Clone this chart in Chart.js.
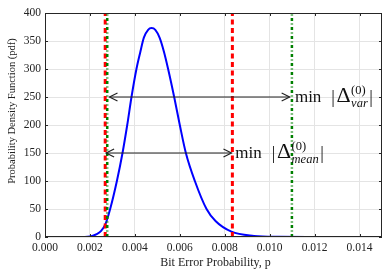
<!DOCTYPE html>
<html lang="en">

<head>
    <meta charset="UTF-8">
    <title>pdf</title>
    <style>
        html, body { margin: 0; padding: 0; background: #fff; }
        #box { width: 390px; height: 276px; }
    </style>
</head>

<body>
    <div id="box">
        <canvas id="myChart"></canvas>
    </div>

    <script src="https://cdn.jsdelivr.net/npm/chart.js"></script>

    <script>
        // pdf curve
        var pValues = [0, 0.0016, 0.0019, 0.0021, 0.0023, 0.0025, 0.00268, 0.0029, 0.0032, 0.00345, 0.00366, 0.00385, 0.00407, 0.00424, 0.00440, 0.00459, 0.00474, 0.00491, 0.00510, 0.0053, 0.00548, 0.00575, 0.00600, 0.00627, 0.00667, 0.00719, 0.0076, 0.0083, 0.0093, 0.0104, 0.0120, 0.0150];
        var pdfValues = [0, 0, 0.5, 2, 5, 11, 22, 50, 100, 150, 200, 250, 300, 330, 356, 370, 373, 370, 356, 330, 300, 250, 200, 150, 100, 50, 28, 9.5, 2, 0.3, 0, 0];

        // vertical markers
        var meanLines = [0.00268, 0.00834];   // red dashed
        var varLines = [0.00277, 0.01099];    // green dash-dot

        // arrows  [x from, x to, y]
        var varArrow = [0.00287, 0.01089, 250];
        var meanArrow = [0.00272, 0.00830, 150];

        var xTicks = [0, 0.002, 0.004, 0.006, 0.008, 0.010, 0.012, 0.014];
        var xTickLabels = ['0.000', '0.002', '0.004', '0.006', '0.008', '0.010', '0.012', '0.014'];
        var yTicks = [0, 50, 100, 150, 200, 250, 300, 350, 400];
        var yTickLabels = ['0', '50', '100', '150', '200', '250', '300', '350', '400'];

        var xTitle = 'Bit Error Probability, p';
        var yTitle = 'Probability Density Function (pdf)';

        var serif = "'Liberation Serif', 'Times New Roman', serif";

        function vline(x) {
            return [{ x: x, y: 0 }, { x: x, y: 400 }];
        }
        function hline(a) {
            return [{ x: a[0], y: a[2] }, { x: a[1], y: a[2] }];
        }

        var curve = pValues.map(function (p, i) { return { x: p, y: pdfValues[i] }; });

        // arrow heads, text labels, box with inner ticks
        var extras = {
            id: 'extras',
            afterDatasetsDraw: function (chart) {
                var c = chart.ctx;
                var xs = chart.scales.x, ys = chart.scales.y;
                var a = chart.chartArea;

                // arrow heads
                c.save();
                c.strokeStyle = '#222';
                c.lineWidth = 1.2;
                [varArrow, meanArrow].forEach(function (ar) {
                    var y = ys.getPixelForValue(ar[2]);
                    var x0 = xs.getPixelForValue(ar[0]);
                    var x1 = xs.getPixelForValue(ar[1]);
                    c.beginPath();
                    c.moveTo(x0 + 8, y - 4); c.lineTo(x0, y); c.lineTo(x0 + 8, y + 4);
                    c.moveTo(x1 - 8, y - 4); c.lineTo(x1, y); c.lineTo(x1 - 8, y + 4);
                    c.stroke();
                });
                c.restore();

                // box + inner ticks
                c.save();
                c.strokeStyle = '#262626';
                c.lineWidth = 1;
                c.strokeRect(Math.round(a.left) + 0.5, Math.round(a.top) + 0.5, Math.round(a.right - a.left) - 1, Math.round(a.bottom - a.top) - 1);
                c.beginPath();
                xTicks.forEach(function (v) {
                    var x = Math.round(xs.getPixelForValue(v)) + 0.5;
                    c.moveTo(x, a.bottom); c.lineTo(x, a.bottom - 3);
                    c.moveTo(x, a.top); c.lineTo(x, a.top + 3);
                });
                yTicks.forEach(function (v) {
                    var y = Math.round(ys.getPixelForValue(v)) + 0.5;
                    c.moveTo(a.left, y); c.lineTo(a.left + 3, y);
                    c.moveTo(a.right, y); c.lineTo(a.right - 3, y);
                });
                c.stroke();
                c.restore();

                // labels next to arrows
                drawDelta(c, xs.getPixelForValue(varLines[1]) + 3, ys.getPixelForValue(varArrow[2]) + 5, 'var');
                drawDelta(c, xs.getPixelForValue(meanLines[1]) + 3, ys.getPixelForValue(meanArrow[2]) + 5, 'mean');

                // axis titles
                c.save();
                c.fillStyle = '#222';
                c.font = '12px ' + serif;
                c.textAlign = 'center';
                c.textBaseline = 'alphabetic';
                c.fillText(xTitle, (a.left + a.right) / 2 + 2, 266);
                c.translate(15, (a.top + a.bottom) / 2 - 14);
                c.rotate(-Math.PI / 2);
                c.font = '10.5px ' + serif;
                c.fillText(yTitle, 0, 0);
                c.restore();
            }
        };

        function drawDelta(c, x, y, sub) {
            c.save();
            c.fillStyle = '#111';
            c.textBaseline = 'alphabetic';
            c.textAlign = 'left';
            c.font = '17px ' + serif;
            c.fillText('min', x, y);
            x += c.measureText('min').width + 10;
            c.font = '18px ' + serif;
            c.fillText('|', x, y + 1);
            x += c.measureText('|').width + 1.5;
            c.font = '22px ' + serif;
            c.fillText('Δ', x, y);
            x += c.measureText('Δ').width + 0.5;
            c.font = '12.5px ' + serif;
            c.fillText('(0)', x, y - 8);
            var w1 = c.measureText('(0)').width;
            c.font = 'italic 12.5px ' + serif;
            c.fillText(sub, x, y + 5);
            var w2 = c.measureText(sub).width;
            x += Math.max(w1, w2) + 1.5;
            c.font = '18px ' + serif;
            c.fillText('|', x, y + 1);
            c.restore();
        }

        const ctx = document.getElementById('myChart');

        var myChart = new Chart(ctx, {
            type: 'line',
            data: {
                datasets: [
                    { data: hline(varArrow), borderColor: '#222', borderWidth: 1.2, pointRadius: 0, order: 1 },
                    { data: hline(meanArrow), borderColor: '#222', borderWidth: 1.2, pointRadius: 0, order: 1 },
                    { data: vline(varLines[0]), borderColor: '#008000', borderWidth: 2.5, borderDash: [3, 2.5, 1, 2.5], pointRadius: 0, order: 2 },
                    { data: vline(varLines[1]), borderColor: '#008000', borderWidth: 2.5, borderDash: [3, 2.5, 1, 2.5], pointRadius: 0, order: 2 },
                    { data: vline(meanLines[0]), borderColor: '#ff0000', borderWidth: 3, borderDash: [5, 3.5], pointRadius: 0, order: 3 },
                    { data: vline(meanLines[1]), borderColor: '#ff0000', borderWidth: 3, borderDash: [5, 3.5], pointRadius: 0, order: 3 },
                    { data: curve, borderColor: '#0000ff', borderWidth: 2, pointRadius: 0, cubicInterpolationMode: 'monotone', order: 4 }
                ]
            },
            options: {
                responsive: true,
                maintainAspectRatio: false,
                animation: false,
                devicePixelRatio: 1,
                layout: { padding: { left: 0, right: 8, top: 13, bottom: 0 } },
                plugins: {
                    legend: { display: false },
                    tooltip: { enabled: false }
                },
                scales: {
                    x: {
                        type: 'linear',
                        min: 0,
                        max: 0.015,
                        afterBuildTicks: function (s) { s.ticks = xTicks.map(function (v) { return { value: v }; }); },
                        afterFit: function (s) { s.height = 39; },
                        grid: { color: '#e4e4e4', drawTicks: false },
                        border: { display: false },
                        ticks: {
                            padding: 4,
                            maxRotation: 0,
                            autoSkip: false,
                            color: '#222',
                            font: { family: serif, size: 11.5 },
                            callback: function (v) { var i = xTicks.indexOf(v); return i >= 0 ? xTickLabels[i] : ''; }
                        }
                    },
                    y: {
                        min: 0,
                        max: 400,
                        afterBuildTicks: function (s) { s.ticks = yTicks.map(function (v) { return { value: v }; }); },
                        afterFit: function (s) { s.width = 45; },
                        grid: { color: '#e4e4e4', drawTicks: false },
                        border: { display: false },
                        ticks: {
                            padding: 4,
                            autoSkip: false,
                            color: '#222',
                            font: { family: serif, size: 11.5 },
                            callback: function (v) { var i = yTicks.indexOf(v); return i >= 0 ? yTickLabels[i] : ''; }
                        }
                    }
                }
            },
            plugins: [extras]
        });
    </script>

</body>

</html>
